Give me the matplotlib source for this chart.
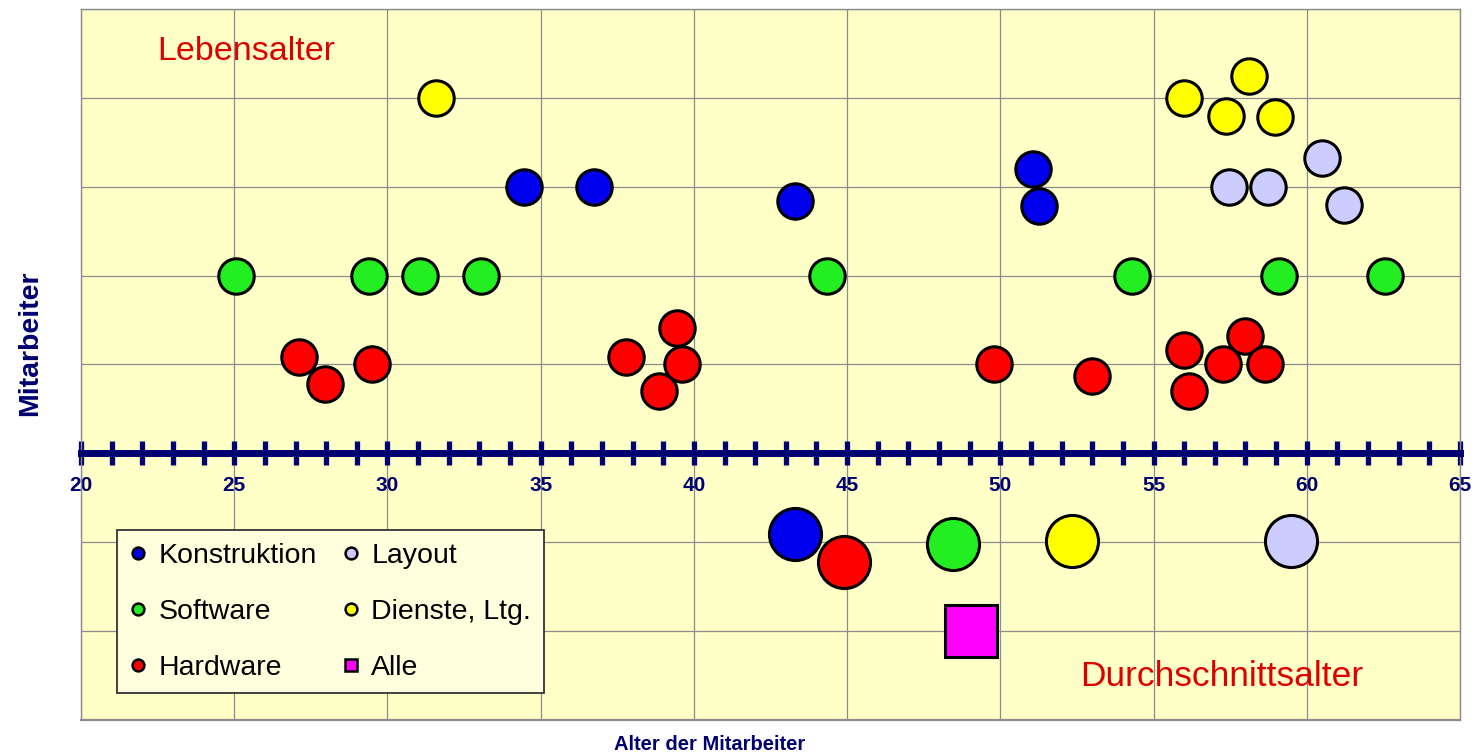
import matplotlib
matplotlib.use("Agg")
import matplotlib.pyplot as plt
from matplotlib.ticker import MultipleLocator
from matplotlib.lines import Line2D

plt.rcParams['font.family'] = ['Liberation Sans', 'DejaVu Sans']

# ---------------- data ----------------
konstruktion_x = [34.45, 36.75, 43.3, 51.05, 51.25]
konstruktion_y = [3.0, 3.0, 2.84, 3.2, 2.78]
layout_x = [60.5, 57.45, 58.75, 61.2]
layout_y = [3.32, 3.0, 3.0, 2.79]
software_x = [25.05, 29.4, 31.05, 33.05, 44.35, 54.3, 59.1, 62.55]
software_y = [2.0, 2.0, 2.0, 2.0, 2.0, 2.0, 2.0, 2.0]
dienste_x = [31.6, 56.0, 58.1, 57.35, 58.95]
dienste_y = [4.0, 4.0, 4.25, 3.8, 3.78]
hardware_x = [27.1, 27.95, 29.5, 37.8, 39.45, 38.85, 39.6, 49.8, 53.0, 56.0, 58.0, 57.25, 58.65, 56.15]
hardware_y = [1.09, 0.78, 1.0, 1.09, 1.41, 0.7, 1.0, 1.0, 0.87, 1.16, 1.32, 1.0, 1.0, 0.7]

# averages (Durchschnittsalter)
avg_labels = ['Konstruktion', 'Hardware', 'Software', 'Dienste, Ltg.', 'Layout']
avg_x = [43.3, 44.9, 48.45, 52.35, 59.5]
avg_y = [-0.91, -1.22, -1.02, -0.99, -0.99]
alle_x = [49.05]
alle_y = [-2.0]

xtick_values = [20, 25, 30, 35, 40, 45, 50, 55, 60, 65]
xtick_labels = ['20', '25', '30', '35', '40', '45', '50', '55', '60', '65']

colors = {
    'Konstruktion': '#0000EE',
    'Layout': '#CCCCFF',
    'Software': '#22EE22',
    'Dienste, Ltg.': '#FFFF00',
    'Hardware': '#FF0000',
    'Alle': '#FF00FF',
}

navy = '#000070'
red_text = '#DD0000'

# ---------------- figure ----------------
fig = plt.figure(figsize=(14.81, 7.56), dpi=100)
ax = fig.add_axes([81/1481, 1 - 720/756, 1379/1481, 711/756])
ax.set_facecolor('#FFFFC8')
ax.set_xlim(20, 65)
ax.set_ylim(-3, 5)

small_ms = 25.5
big_ms = 37.5
mew = 2.2

series = [
    ('Konstruktion', konstruktion_x, konstruktion_y),
    ('Layout', layout_x, layout_y),
    ('Software', software_x, software_y),
    ('Dienste, Ltg.', dienste_x, dienste_y),
    ('Hardware', hardware_x, hardware_y),
]
for name, xs, ys in series:
    ax.plot(xs, ys, linestyle='none', marker='o', ms=small_ms,
            mfc=colors[name], mec='black', mew=mew, zorder=3)

for name, x, y in zip(avg_labels, avg_x, avg_y):
    ax.plot([x], [y], linestyle='none', marker='o', ms=big_ms,
            mfc=colors[name], mec='black', mew=mew, zorder=3)
ax.plot(alle_x, alle_y, linestyle='none', marker='s', ms=big_ms,
        mfc=colors['Alle'], mec='black', mew=mew, zorder=3)

# grid and axes
ax.set_axisbelow(True)
ax.set_yticks(range(-3, 6))
ax.tick_params(axis='y', length=0, labelleft=False)
ax.xaxis.set_major_locator(MultipleLocator(5))
ax.xaxis.set_minor_locator(MultipleLocator(1))
ax.set_xticks(xtick_values, xtick_labels)
ax.grid(which='major', color='#8C8C8C', linewidth=0.9)

for s in ['left', 'right', 'top']:
    ax.spines[s].set_color('#8C8C8C')
    ax.spines[s].set_linewidth(1.0)
ax.axhline(-3, color='#8C8C8C', linewidth=1.6, clip_on=False)
ax.spines['bottom'].set_position(('data', 0))
ax.spines['bottom'].set_color(navy)
ax.spines['bottom'].set_linewidth(5.0)
ax.spines['bottom'].set_zorder(2.6)
ax.tick_params(axis='x', which='both', direction='inout', length=17,
               width=3.8, color=navy)
ax.tick_params(axis='x', which='major', labelsize=15, labelcolor=navy, pad=8)

# texts
fig.text(246/1481, 1 - 52/756, 'Lebensalter', color=red_text, fontsize=24.5,
         ha='center', va='center')
fig.text(1222/1481, 1 - 676/756, 'Durchschnittsalter', color=red_text,
         fontsize=25.5, ha='center', va='center')
fig.text(30/1481, 1 - 343/756, 'Mitarbeiter', color=navy, fontsize=20.5,
         fontweight='bold', rotation=90, ha='center', va='center')
fig.text(710/1481, 1 - 745/756, 'Alter der Mitarbeiter', color=navy,
         fontsize=14.5, fontweight='bold', ha='center', va='center')

# legend
leg_order = ['Konstruktion', 'Software', 'Hardware', 'Layout', 'Dienste, Ltg.', 'Alle']
handles = []
for name in leg_order:
    mk = 's' if name == 'Alle' else 'o'
    handles.append(Line2D([], [], linestyle='none', marker=mk, ms=8.5,
                          mfc=colors[name], mec='black', mew=1.8))
leg = ax.legend(handles, leg_order, ncol=2, loc='upper left',
                bbox_to_anchor=(117/1481, 1 - 530/756),
                bbox_transform=fig.transFigure, borderaxespad=0,
                fontsize=20.5, frameon=True, fancybox=False,
                edgecolor='#333333', facecolor='#FFFFDD', framealpha=1,
                handlelength=0.6, handletextpad=0.42, columnspacing=0.88,
                labelspacing=1.05, borderpad=0.45)
leg.get_frame().set_linewidth(1.3)

for lbl in ax.get_xticklabels():
    lbl.set_fontweight('bold')

fig.savefig('out.png', dpi=100, facecolor='white')
